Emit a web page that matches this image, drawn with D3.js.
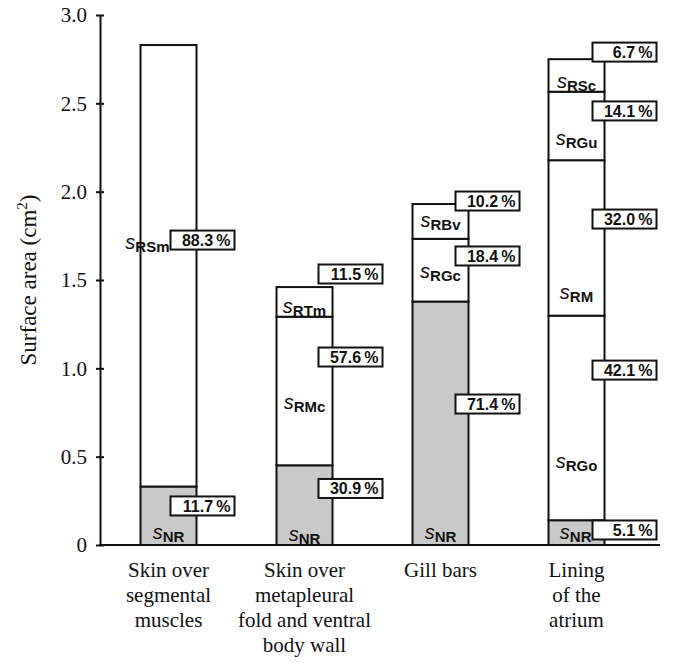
<!DOCTYPE html>
<html><head><meta charset="utf-8">
<script src="https://cdn.jsdelivr.net/npm/d3@7"></script>
<style>
html,body{margin:0;padding:0;background:#fff;}
svg{display:block;}
</style></head>
<body>
<svg id="chart" width="678" height="663"></svg>
<script>
// ---- data ----
const categories = ["Skin over segmental muscles", "Skin over metapleural fold and ventral body wall", "Gill bars", "Lining of the atrium"];
const categoryLines = [["Skin over","segmental","muscles"],["Skin over","metapleural","fold and ventral","body wall"],["Gill bars"],["Lining","of the","atrium"]];
const totalArea = [2.83, 1.46, 1.93, 2.75];
const segmentNames = [["NR","RSm"],["NR","RMc","RTm"],["NR","RGc","RBv"],["NR","RGo","RM","RGu","RSc"]];
const segmentPercent = [[11.7,88.3],[30.9,57.6,11.5],[71.4,18.4,10.2],[5.1,42.1,32.0,14.1,6.7]];
const yTicks = [0, 0.5, 1.0, 1.5, 2.0, 2.5, 3.0];

// ---- layout (label anchor heights in axis units) ----
const pctLabelAt = [[0.221,1.726],[0.32,1.064,1.534],[0.798,1.636,1.947],[0.085,0.99,1.845,2.457,2.79]];
const nameLabelAt = [[0.07,1.71],[0.057,0.804,1.347],[0.07,1.545,1.834],[0.068,0.47,1.426,2.30,2.62]];
const boxDx = [-26,-14,-13,-12];

const svg = d3.select("#chart");
const x = d3.scalePoint().domain(categories).range([168.5, 576.5]);
const y = d3.scaleLinear().domain([0, 3]).range([545, 15]);
const barW = 56;
const sans = "'Liberation Sans', Arial, sans-serif";
const serif = "'Liberation Serif', 'Times New Roman', serif";

// axis
const yAxis = d3.axisLeft(y).tickValues(yTicks).tickSizeInner(4).tickSizeOuter(0)
  .tickPadding(9).tickFormat(d => d === 0 ? "0" : d3.format(".1f")(d));
const ga = svg.append("g").attr("transform","translate(100,0)").call(yAxis);
ga.select(".domain").attr("stroke","#111").attr("stroke-width",2);
ga.selectAll(".tick line").attr("x1",4).attr("x2",-4).attr("stroke","#111").attr("stroke-width",2);
ga.selectAll(".tick text").attr("font-family",serif).attr("font-size",21).attr("fill","#111");

// baseline
svg.append("line").attr("x1",99).attr("x2",660).attr("y1",y(0)).attr("y2",y(0))
  .attr("stroke","#111").attr("stroke-width",2);

// y label
const yl = svg.append("text").attr("transform","translate(36,280) rotate(-90)")
  .attr("text-anchor","middle").attr("font-family",serif).attr("font-size",23).attr("fill","#111");
yl.append("tspan").text("Surface area (cm");
yl.append("tspan").attr("font-size",15).attr("dy",-9).text("2");
yl.append("tspan").attr("dy",9).text(")");

// bars
categories.forEach((c, i) => {
  const cx = x(c);
  let cum = 0;
  const segs = segmentPercent[i].map((p, j) => {
    const v0 = cum; cum += p / 100 * totalArea[i];
    return {v0, v1: cum, name: segmentNames[i][j], p, j};
  });
  const g = svg.append("g");
  g.selectAll("rect").data(segs).join("rect")
    .attr("x", cx - barW/2).attr("width", barW)
    .attr("y", d => y(d.v1)).attr("height", d => y(d.v0) - y(d.v1))
    .attr("fill", d => d.name === "NR" ? "#c9c9c9" : "#fff")
    .attr("stroke","#111").attr("stroke-width",2);
  const boxLeft = cx + barW/2 + boxDx[i];
  // segment name labels
  segs.forEach(d => {
    const shared = Math.abs(nameLabelAt[i][d.j] - pctLabelAt[i][d.j]) < 0.05;
    const t = g.append("text")
      .attr("x", shared ? boxLeft - 1 : cx)
      .attr("y", y(nameLabelAt[i][d.j]) + 6)
      .attr("text-anchor", shared ? "end" : "middle").attr("font-family",sans).attr("fill","#111");
    t.append("tspan").attr("font-style","italic").attr("font-size",20).text("s");
    t.append("tspan").attr("font-size",15).attr("font-weight","bold").attr("dy",3).text(d.name);
  });
  // percent boxes
  segs.forEach(d => {
    const by = y(pctLabelAt[i][d.j]);
    const gb = g.append("g");
    gb.append("rect").attr("x", boxLeft).attr("y", by - 9.5).attr("width", 64).attr("height", 19)
      .attr("fill","#fff").attr("stroke","#111").attr("stroke-width",2);
    gb.append("text").attr("x", boxLeft + 60).attr("y", by + 6).attr("text-anchor","end")
      .attr("font-family",sans).attr("font-weight","bold")
      .attr("font-size",16).attr("fill","#111")
      .text(d.p.toFixed(1) + "\u2009%");
  });
  // category label
  const ct = svg.append("text").attr("text-anchor","middle")
    .attr("font-family",serif).attr("font-size",21).attr("fill","#111");
  categoryLines[i].forEach((l, k) => {
    ct.append("tspan").attr("x", cx).attr("y", 577 + k*25).text(l);
  });
});
</script>
</body></html>
